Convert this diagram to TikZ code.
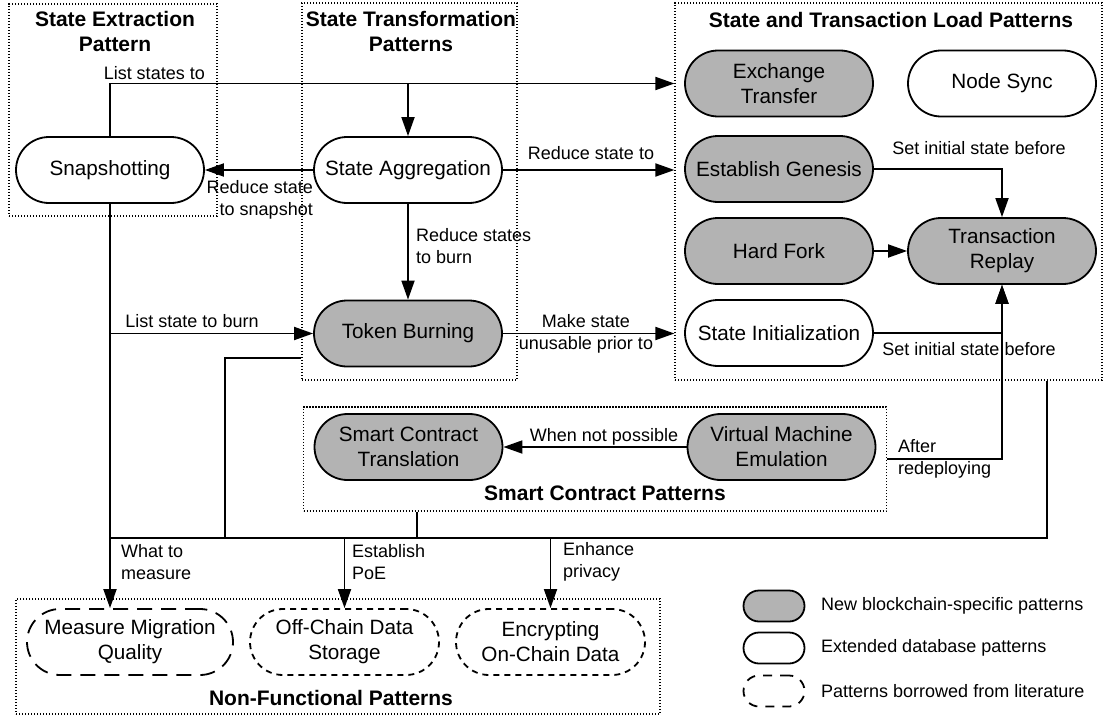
\documentclass[tikz,border=0pt]{standalone}
\usepackage{fontspec}
\setmainfont{Liberation Sans}
\usetikzlibrary{arrows.meta}
\definecolor{bcgray}{RGB}{179,179,179}

\begin{document}
\begin{tikzpicture}
    [x=1pt,y=-1pt,
     every node/.style={font=\fontsize{20.7}{25}\selectfont},
     pat/.style={draw=black,line width=1.8pt,rounded corners=33pt,minimum width=188,minimum height=66,align=center,inner sep=0pt},
     newpat/.style={pat,fill=bcgray},
     extpat/.style={pat,fill=white},
     litpat/.style={pat,dash pattern=on 6pt off 5pt},
     grp/.style={draw=black,line width=1.2pt,dash pattern=on 1.2pt off 1.8pt,inner sep=0pt},
     ttl/.style={font=\fontsize{21}{25}\selectfont\bfseries,align=center},
     lbl/.style={font=\fontsize{18}{22}\selectfont,inner sep=0pt},
     post/.style={-{Triangle[length=19pt,width=13pt]},line width=1.8pt},
     bus/.style={line width=1.8pt}]
    \useasboundingbox (0,0) rectangle (1103,717);
    % pattern groups
    \node [grp,minimum width=208,minimum height=212] (exbox) at (113,110) {};
    \node [grp,minimum width=215,minimum height=377] (tfbox) at (409.5,191.5) {};
    \node [grp,minimum width=427,minimum height=377] (ldbox) at (888.5,191.5) {};
    \node [grp,minimum width=583,minimum height=104] (scbox) at (595,459) {};
    \node [grp,minimum width=644,minimum height=115] (nfbox) at (338,656.5) {};
    \node [ttl] at (115,31) {State Extraction\\Pattern};
    \node [ttl] at (411,31) {State Transformation\\Patterns};
    \node [ttl] at (891,20) {State and Transaction Load Patterns};
    \node [ttl] at (605,493) {Smart Contract Patterns};
    \node [ttl] at (331,698) {Non-Functional Patterns};
    % patterns
    \node [extpat] (snap) at (110,170) {Snapshotting};
    \node [extpat] (aggr) at (408,170) {State Aggregation}
      edge [post] (snap);
    \node [newpat] (burn) at (408,333.5) {Token Burning};
    \node [newpat] (exch) at (779,83.5) {Exchange\\Transfer};
    \node [extpat] (sync) at (1002,83.5) {Node Sync};
    \node [newpat] (gen) at (779,169) {Establish Genesis};
    \node [newpat] (replay) at (1002,251) {Transaction\\Replay};
    \node [newpat] (fork) at (779,251) {Hard Fork}
      edge [post] (replay);
    \node [extpat] (init) at (779,333) {State Initialization};
    \node [newpat] (sct) at (408.5,447) {Smart Contract\\Translation};
    \node [newpat] (vme) at (781.5,447) {Virtual Machine\\Emulation}
      edge [post] (sct);
    \node [litpat,minimum width=206,dash pattern=on 15pt off 9pt] (measure) at (130,642) {Measure Migration\\Quality};
    \node [litpat,minimum width=189] (offch) at (344.5,642) {Off-Chain Data\\Storage};
    \node [litpat,minimum width=189] (encr) at (550.5,642) {Encrypting\\On-Chain Data};
    % connectors
    \coordinate (bus) at (0,538);
    \coordinate (split) at (aggr.north |- exch);
    \draw [post] (snap.north) |- (exch -| ldbox.west);
    \draw [post] (split) -- (aggr.north);
    \draw [post] (aggr.east) -- (aggr -| ldbox.west);
    \draw [post] (aggr.south) -- (burn.north);
    \draw [post] (snap.south) -- (snap.south |- measure.north);
    \draw [post] (snap |- burn) -- (burn.west);
    \draw [post] (burn.east) -- (burn -| ldbox.west);
    \draw [post] (gen.east) -| (replay.north);
    \draw [post] (init.east) -| (replay.south);
    \draw [post] (scbox.east) -| (replay.south);
    \draw [bus] (snap |- bus) -| (1047,0 |- ldbox.south);
    \draw [bus] ([yshift=23pt]tfbox.south west) -| (225,0 |- bus);
    \draw [bus] (417,0 |- scbox.south) -- (417,0 |- bus);
    \draw [post] (offch |- bus) -- (offch.north);
    \draw [post] (encr |- bus) -- (encr.north);
    % connector labels
    \node [lbl,anchor=east] at (205,73) {List states to};
    \node [lbl,anchor=east,align=right] at (313,200) {Reduce state\\to snapshot};
    \node [lbl] at (591,153) {Reduce state to};
    \node [lbl,anchor=west,align=left] at (416,246) {Reduce states\\to burn};
    \node [lbl] at (192,321) {List state to burn};
    \node [lbl,align=center] at (586,334) {Make state\\unusable prior to};
    \node [lbl] at (979,148) {Set initial state before};
    \node [lbl] at (969,349) {Set initial state before};
    \node [lbl] at (604,437) {When not possible};
    \node [lbl,anchor=west,align=left] at (898,459) {After\\redeploying};
    \node [lbl,anchor=west,align=left] at (121,562) {What to\\measure};
    \node [lbl,anchor=west,align=left] at (352,562) {Establish\\PoE};
    \node [lbl,anchor=west,align=left] at (563,562) {Enhance\\privacy};
    % legend
    \node [newpat,minimum width=61,minimum height=31,rounded corners=15.5pt] (lgnew) at (774,606) {};
    \node [extpat,minimum width=61,minimum height=31,rounded corners=15.5pt] (lgext) at (774,648) {};
    \node [litpat,minimum width=61,minimum height=31,rounded corners=15.5pt,dash pattern=on 9pt off 8pt] (lglit) at (774,691) {};
    \node [lbl,anchor=west] at (821,606) {New blockchain-specific patterns};
    \node [lbl,anchor=west] at (821,648) {Extended database patterns};
    \node [lbl,anchor=west] at (821,691) {Patterns borrowed from literature};
\end{tikzpicture}
\end{document}
